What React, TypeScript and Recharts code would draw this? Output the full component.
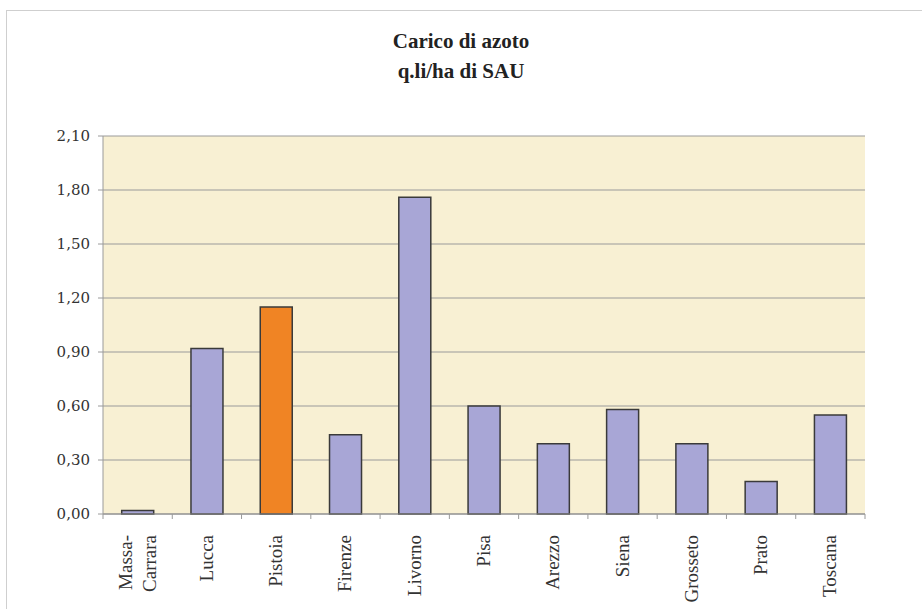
import { Bar, BarChart, CartesianGrid, Cell, XAxis, YAxis } from "recharts";

const PROVINCE = ['Massa-Carrara', 'Lucca', 'Pistoia', 'Firenze', 'Livorno', 'Pisa', 'Arezzo', 'Siena', 'Grosseto', 'Prato', 'Toscana'];
const CARICO = [0.02, 0.92, 1.15, 0.44, 1.76, 0.60, 0.39, 0.58, 0.39, 0.18, 0.55];
const Y_TICKS = [0, 0.3, 0.6, 0.9, 1.2, 1.5, 1.8, 2.1];
const HIGHLIGHT = 'Pistoia';

const data = PROVINCE.map((p, i) => ({ provincia: p, valore: CARICO[i] }));

const FONT = '"Liberation Serif", "Times New Roman", serif';
const W = 922;
const H = 609;
const MARGIN = { top: 136, right: 57, bottom: 0, left: 43 };
const Y_WIDTH = 60;
const HALF_BAND = (W - MARGIN.left - MARGIN.right - Y_WIDTH) / PROVINCE.length / 2;

// etichette ruotate, "Massa-Carrara" su due righe, tacche ai bordi della categoria
const CategoryTick = (props: any) => {
    const { x, y, payload, index } = props;
    const label: string = payload.value;
    const lines = label.includes('-') ? [label.split('-')[0] + '-', label.split('-')[1]] : [label];
    const lh = 24;
    return (
        <g>
            <line x1={x - HALF_BAND} x2={x - HALF_BAND} y1={y - 10} y2={y - 5} stroke="#9a9a9a" />
            {index === PROVINCE.length - 1 && (
                <line x1={x + HALF_BAND} x2={x + HALF_BAND} y1={y - 10} y2={y - 5} stroke="#9a9a9a" />
            )}
            <g transform={`translate(${x},${y + 11}) rotate(-90)`}>
                {lines.map((l, i) => (
                    <text
                        key={i}
                        x={0}
                        y={(i - (lines.length - 1) / 2) * lh}
                        dy={6}
                        textAnchor="end"
                        fontFamily={FONT}
                        fontSize={19}
                        fill="#333"
                    >
                        {l}
                    </text>
                ))}
            </g>
        </g>
    );
};

export default function App() {
    return (
        <div style={{ position: 'absolute', left: 0, top: 0, width: W, height: H, background: '#fff', overflow: 'hidden' }}>
            <div style={{ position: 'absolute', left: 6, top: 10, width: 940, height: 640, border: '1px solid #cfcfcf' }} />
            <div style={{ position: 'absolute', left: 0, top: 26, width: W, textAlign: 'center', fontFamily: FONT, fontWeight: 'bold', fontSize: 21, lineHeight: '30px', color: '#222' }}>
                Carico di azoto<br />q.li/ha di SAU
            </div>
            <BarChart
                width={W}
                height={H}
                data={data}
                margin={MARGIN}
                barCategoryGap="27%"
                style={{ position: 'absolute', left: 0, top: 0 }}
            >
                <CartesianGrid vertical={false} stroke="#9a9a9a" fill="#f8f0d3" fillOpacity={1} />
                <XAxis
                    dataKey="provincia"
                    interval={0}
                    height={95}
                    tickLine={false}
                    tickSize={8}
                    axisLine={{ stroke: '#8a8a8a' }}
                    tick={<CategoryTick />}
                />
                <YAxis
                    domain={[0, 2.1]}
                    ticks={Y_TICKS}
                    interval={0}
                    width={Y_WIDTH}
                    axisLine={{ stroke: '#9a9a9a' }}
                    tickLine={{ stroke: '#9a9a9a' }}
                    tickSize={5}
                    tickMargin={8}
                    tickFormatter={(v: number) => v.toFixed(2).replace('.', ',')}
                    tick={{ fontFamily: '"DejaVu Serif", serif', fontSize: 15, fill: '#333' }}
                />
                <Bar dataKey="valore" stroke="#3a3a3a" strokeWidth={1.5} isAnimationActive={false}>
                    {data.map((d) => (
                        <Cell key={d.provincia} fill={d.provincia === HIGHLIGHT ? '#f08424' : '#a8a6d6'} />
                    ))}
                </Bar>
            </BarChart>
        </div>
    );
}
